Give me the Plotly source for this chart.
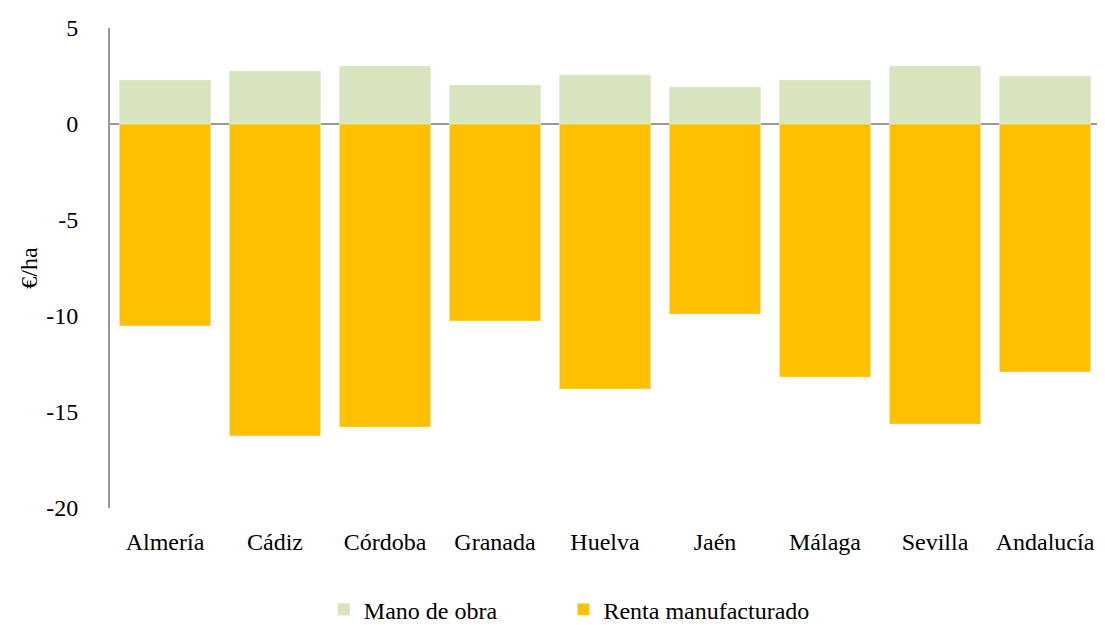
import plotly.graph_objects as go

provincias = ["Almería", "Cádiz", "Córdoba", "Granada", "Huelva", "Jaén", "Málaga", "Sevilla", "Andalucía"]
mano_obra = [2.29, 2.76, 3.02, 2.03, 2.55, 1.93, 2.29, 3.02, 2.50]
renta_manuf = [-10.52, -16.25, -15.78, -10.26, -13.80, -9.90, -13.18, -15.63, -12.92]
y_ticks = [-20, -15, -10, -5, 0, 5]
y_labels = ["-20", "-15", "-10", "-5", "0", "5"]

fuente = dict(family="Liberation Serif, Times New Roman, serif", size=24, color="#000000")

fig = go.Figure()
fig.add_trace(go.Bar(x=provincias, y=mano_obra, name="Mano de obra", marker_color="#D7E4BD",
                     legend="legend"))
fig.add_trace(go.Bar(x=provincias, y=renta_manuf, name="Renta manufacturado", marker_color="#FFC000",
                     legend="legend2"))

# la página añade 8 px de margen al body: se compensa aquí
fig.update_layout(
    barmode="relative",
    bargap=0.17,
    width=1097, height=617,
    margin=dict(l=102, r=5, t=20, b=117, autoexpand=False),
    plot_bgcolor="white", paper_bgcolor="white",
    font=fuente,
    showlegend=True,
    legend=dict(orientation="h", x=0.216, xanchor="left", y=-0.165, yanchor="top",
                font=fuente, itemwidth=30),
    legend2=dict(orientation="h", x=0.458, xanchor="left", y=-0.165, yanchor="top",
                 font=fuente, itemwidth=30),
)
fig.update_yaxes(range=[-20, 5], tickvals=y_ticks, ticktext=y_labels, showgrid=False,
                 showline=True, linecolor="#999999", linewidth=2, zeroline=True,
                 zerolinecolor="#999999", zerolinewidth=2, ticks="", ticklabelstandoff=25,
                 automargin=False, title=dict(text="€/ha", font=fuente, standoff=2))
fig.update_xaxes(showgrid=False, showline=False, ticks="", ticklabelstandoff=17, automargin=False)

fig.write_html("out.html")
